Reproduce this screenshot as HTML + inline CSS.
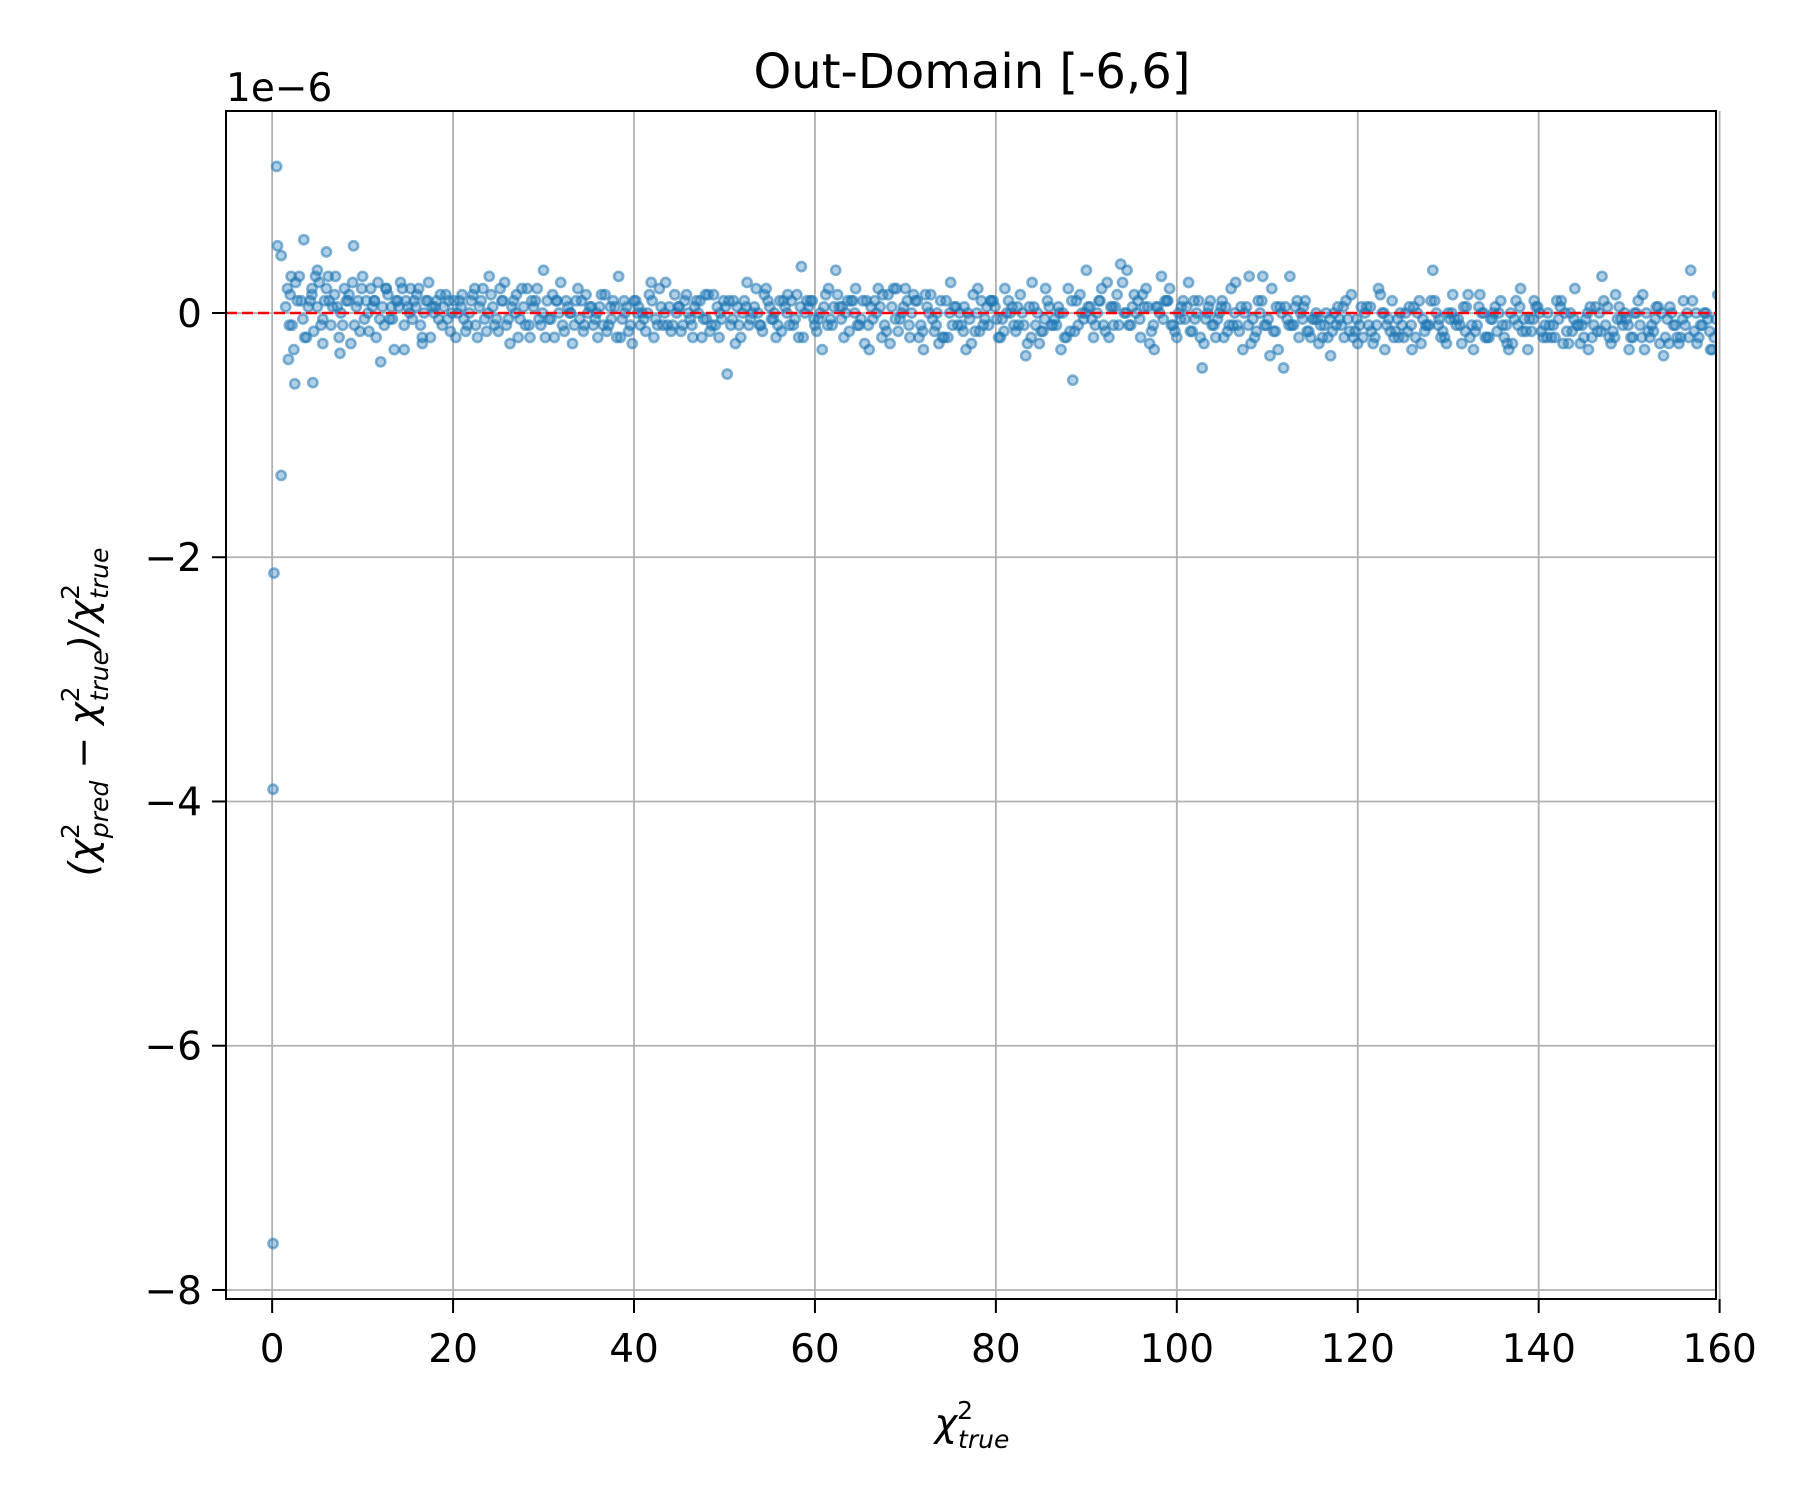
<!DOCTYPE html>
<html><head><meta charset="utf-8"><style>
html,body{margin:0;padding:0;background:#fff;}
svg text{font-family:"DejaVu Sans","Liberation Sans",sans-serif;fill:#000;}
</style></head><body>
<svg id="chart" width="1800" height="1500" viewBox="0 0 1800 1500" xmlns="http://www.w3.org/2000/svg">
<defs><clipPath id="plotclip"><rect x="226" y="111" width="1490" height="1188"/></clipPath></defs>
<rect width="1800" height="1500" fill="#fff"/>
<g id="grid"></g>
<g id="points" clip-path="url(#plotclip)"></g>
<line id="zero" stroke="#ff0000" stroke-width="2.6" stroke-dasharray="11,5"/>
<rect id="frame" fill="none" stroke="#000" stroke-width="2"/>
<g id="ticks"></g>
<text x="972" y="88" font-size="48" text-anchor="middle">Out-Domain [-6,6]</text>
<text x="226" y="101" font-size="39">1e−6</text>
<text x="972" y="1436" font-size="38" text-anchor="middle" font-style="italic">χ<tspan font-size="25" dy="-17" font-style="normal">2</tspan><tspan font-size="25" dx="-15" dy="29">true</tspan></text>
<text transform="translate(96,712) rotate(-90)" font-size="38" text-anchor="middle" font-style="italic">(χ<tspan font-size="25" dy="-17" font-style="normal">2</tspan><tspan font-size="25" dx="-15" dy="29">pred</tspan><tspan dy="-12" font-style="normal"> − </tspan>χ<tspan font-size="25" dy="-17" font-style="normal">2</tspan><tspan font-size="25" dx="-15" dy="29">true</tspan><tspan dy="-12">)/χ</tspan><tspan font-size="25" dy="-17" font-style="normal">2</tspan><tspan font-size="25" dx="-15" dy="29">true</tspan></text>
</svg>
<script>
const xTicks=[0,20,40,60,80,100,120,140,160];
const yTicks=[0,-2,-4,-6,-8];
const yTickLabels=["0","−2","−4","−6","−8"];
const outlierX=[0.1,0.1,0.2,1.0,0.5,0.6,1.0,2.5,4.5,3.5,9.0,1.8,2.0,7.5,6.0];
const outlierY=[-7.62,-3.9,-2.13,-1.33,1.2,0.55,0.47,-0.58,-0.57,0.6,0.55,-0.38,0.15,-0.33,0.5];
const bandX=[1.5,2.2,3,3.8,4.4,5,5.6,6.3,7,7.8,8.5,9.3,10,10.7,11.3,12,12.6,13.3,14,14.6,15.3,16,16.6,17.3,18,18.8,19.5,20.3,21,21.8,22.5,23.3,24,24.8,25.5,26.3,27,27.8,28.5,29.3,30,30.8,31.5,32.3,33,33.8,34.5,35.3,36,36.8,37.5,38.3,39,39.8,40.5,41.3,42,42.8,43.5,44.3,45,45.8,46.5,47.3,48,48.8,49.5,50.3,51,51.8,52.5,53.3,54,54.8,55.5,56.3,57,57.8,58.5,59.3,60,60.8,61.5,62.3,63,63.8,64.5,65.3,66,66.8,67.5,68.3,69,69.8,70.5,71.3,72,72.8,73.5,74.3,75,75.8,76.5,77.3,78,78.8,79.5,80.3,81,81.8,82.5,83.3,84,84.8,85.5,86.3,87,87.8,88.5,89.3,90,90.8,91.5,92.3,93,93.8,94.5,95.3,96,96.8,97.5,98.3,99,99.8,100.5,101.3,102,102.8,103.5,104.3,105,105.8,106.5,107.3,108,108.8,109.5,110.3,111,111.8,112.5,113.3,114,114.8,115.5,116.3,117,117.8,118.5,119.3,120,120.8,121.5,122.3,123,123.8,124.5,125.3,126,126.8,127.5,128.3,129,129.8,130.5,131.3,132,132.8,133.5,134.3,135,135.8,136.5,137.3,138,138.8,139.5,140.3,141,141.8,142.5,143.3,144,144.8,145.5,146.3,147,147.8,148.5,149.3,150,150.8,151.5,152.3,153,153.8,154.5,155.3,156,156.8,157.5,158.3,159,159.8];
const bandY=[0.05,-0.1,0.3,-0.2,0.2,0.35,-0.25,0.1,0.3,-0.1,0.15,0.05,0.3,-0.15,0.1,-0.4,0.2,-0.05,0.05,-0.3,0.2,0.15,-0.25,0.25,0.05,-0.1,0.1,-0.2,0.15,0.0,-0.1,0.2,0.3,-0.05,0.1,-0.25,0.15,0.05,-0.2,0.2,0.35,-0.05,0.1,-0.15,0.0,0.2,-0.1,0.05,-0.2,0.15,-0.05,0.3,0.0,-0.25,0.05,-0.15,0.1,0.2,0.25,-0.1,0.05,0.15,-0.2,0.1,-0.05,0.15,0.0,-0.5,0.1,-0.2,0.25,0.05,-0.1,0.1,0.0,-0.15,0.15,-0.05,0.38,0.05,-0.1,-0.3,0.2,0.35,0.05,-0.15,0.2,0.1,-0.3,0.0,0.15,-0.25,0.2,0.05,-0.2,0.1,-0.3,0.15,0.0,-0.2,0.25,-0.1,0.05,-0.25,0.2,-0.05,0.1,-0.2,0.2,0.05,-0.1,-0.35,0.25,-0.25,0.2,-0.1,0.0,-0.2,-0.55,0.15,0.35,-0.2,0.1,0.25,-0.1,0.4,0.35,0.15,-0.2,0.05,-0.3,0.3,0.1,-0.15,0.05,0.25,-0.05,-0.45,0.05,-0.2,0.1,-0.1,0.25,-0.3,0.3,-0.15,0.3,-0.35,0.05,-0.45,0.3,0.1,0.05,-0.2,-0.05,-0.1,-0.35,0.05,-0.2,0.15,-0.25,0.0,-0.15,0.2,-0.3,0.1,-0.2,0.0,-0.3,0.1,-0.1,0.35,-0.05,-0.25,0.15,-0.1,0.05,-0.3,0.15,-0.2,0.0,0.1,-0.25,-0.05,0.2,-0.3,0.1,-0.15,0.0,-0.2,0.1,-0.25,0.2,-0.1,-0.3,0.05,0.3,-0.2,0.15,-0.1,-0.3,0.0,0.15,-0.2,0.05,-0.35,0.05,-0.2,0.1,0.35,-0.25,0.0,-0.3,0.15,-0.1,0.2];
const bandY2=[0.2,-0.3,0.1,0.05,-0.15,0.25,0.1,-0.1,0.05,0.2,-0.25,0.1,-0.05,0.2,-0.2,0.05,0.15,-0.3,0.25,0.1,-0.05,0.2,0.0,-0.2,0.1,0.05,-0.15,0.0,-0.05,0.1,-0.2,-0.05,0.15,-0.15,0.25,0.05,-0.2,-0.1,0.1,-0.05,-0.2,0.15,0.0,0.1,-0.25,-0.05,0.15,-0.1,0.05,-0.15,0.1,-0.2,0.05,0.1,-0.1,0.0,-0.2,0.05,-0.1,0.15,-0.15,0.0,0.05,-0.2,0.15,-0.1,-0.05,0.1,-0.25,0.0,-0.1,0.2,-0.15,0.05,-0.2,0.1,-0.1,0.15,-0.2,0.1,-0.15,0.05,-0.05,0.15,-0.2,0.1,-0.1,-0.25,0.05,0.2,-0.1,0.05,-0.15,0.2,0.0,-0.2,0.15,-0.05,-0.25,0.1,-0.1,0.0,-0.3,0.15,-0.15,0.05,0.1,-0.2,0.0,-0.1,0.15,-0.25,0.05,-0.15,0.1,-0.05,-0.3,0.2,-0.15,0.0,0.05,-0.1,0.2,-0.2,0.05,0.25,-0.1,0.0,0.15,-0.25,0.05,-0.05,0.2,-0.2,0.1,-0.15,0.0,-0.25,0.1,-0.05,-0.2,0.2,-0.1,0.0,-0.25,0.1,-0.1,0.2,-0.3,0.05,-0.1,-0.2,0.1,-0.05,-0.25,0.0,-0.15,-0.05,0.1,-0.2,-0.1,0.05,-0.25,0.15,-0.1,-0.2,0.0,-0.15,0.05,-0.25,-0.1,0.1,-0.2,0.0,-0.05,-0.25,0.15,-0.15,0.0,-0.2,0.05,-0.1,-0.3,0.1,-0.15,-0.05,0.05,-0.2,-0.1,0.1,-0.25,0.0,-0.1,-0.2,0.05,-0.15,0.1,-0.25,-0.05,0.0,-0.2,0.1,-0.3,-0.1,0.05,-0.2,0.0,-0.25,-0.1,0.1,-0.2,0.0,-0.3,-0.15,0.05,-0.25,-0.1];
const bandY3=[-0.1,0.25,-0.05,0.1,0.3,-0.1,0.2,0.05,-0.2,0.1,0.25,-0.15,0.1,0.05,0.25,-0.1,-0.05,0.1,0.2,0.05,0.1,-0.1,0.1,0.05,-0.05,0.15,0.0,0.1,-0.15,0.15,0.05,-0.15,0.05,0.2,-0.1,0.1,-0.05,0.2,0.05,-0.1,0.1,-0.2,0.25,0.05,-0.1,0.1,0.0,-0.05,0.15,-0.1,0.05,-0.05,-0.15,0.1,0.0,0.15,-0.05,-0.1,0.05,0.0,-0.1,-0.05,0.1,-0.05,-0.15,0.05,0.1,-0.1,0.05,0.1,-0.05,0.0,0.15,-0.05,-0.1,0.05,0.1,-0.2,0.0,0.1,-0.05,0.15,-0.1,0.05,0.0,0.1,-0.1,0.1,-0.05,0.05,-0.15,0.2,-0.05,0.1,0.15,-0.1,0.05,-0.15,0.1,-0.2,0.05,-0.1,0.0,-0.15,0.1,-0.1,0.05,-0.05,0.1,-0.15,0.0,0.05,-0.1,-0.15,0.05,-0.1,0.0,-0.15,0.1,-0.05,0.05,0.0,-0.1,0.05,0.15,0.0,-0.1,0.1,0.05,-0.15,0.05,0.1,-0.1,0.0,-0.05,-0.15,0.1,-0.05,-0.1,0.0,0.05,-0.1,-0.15,0.05,-0.05,0.0,-0.1,-0.15,0.05,-0.05,-0.1,0.0,-0.15,-0.05,-0.1,-0.2,0.0,-0.1,-0.05,-0.15,0.05,-0.1,-0.2,0.0,-0.05,-0.15,-0.1,0.05,-0.2,-0.05,-0.1,0.0,-0.15,-0.05,-0.1,0.05,-0.2,-0.1,0.0,-0.05,-0.15,-0.2,0.0,-0.1,-0.05,-0.15,0.05,-0.1,-0.2,-0.05,0.0,-0.15,-0.1,-0.05,-0.2,0.0,-0.1,-0.15,0.05,-0.05,-0.2,-0.1,0.0,-0.15,-0.25,-0.05,-0.1,-0.2,0.0,-0.15,-0.1,-0.05,-0.2,-0.15,-0.05,-0.1];
const bandY4=[0.3,0.1,-0.2,0.15,0.05,-0.05,0.3,0.15,0.0,0.1,-0.1,0.2,0.0,0.1,-0.05,0.2,0.05,0.1,-0.1,0.0,0.05,-0.2,0.1,0.0,0.15,-0.05,0.1,0.05,-0.1,0.2,0.1,0.0,-0.1,0.1,-0.05,0.0,0.2,-0.1,0.1,0.0,-0.05,0.1,-0.1,0.0,0.1,-0.15,0.05,0.0,-0.1,0.05,-0.2,0.1,-0.1,0.0,-0.05,0.25,-0.1,0.0,-0.15,0.05,0.1,-0.1,0.0,0.15,-0.1,-0.2,0.05,-0.05,-0.1,0.05,0.0,-0.1,0.2,-0.05,0.1,0.0,-0.1,0.05,0.1,-0.05,0.0,-0.1,0.05,-0.05,0.1,0.0,-0.05,-0.1,0.1,-0.2,0.15,-0.05,0.0,-0.1,0.1,-0.15,0.0,-0.1,-0.2,0.0,0.05,-0.15,-0.05,0.0,-0.1,0.1,-0.05,-0.15,0.0,0.05,-0.1,-0.2,0.0,-0.05,-0.1,0.05,-0.2,0.1,-0.1,0.0,-0.05,0.1,-0.15,0.05,-0.1,0.0,0.05,-0.05,0.2,-0.1,0.0,0.1,-0.1,-0.05,0.05,0.1,-0.2,0.0,-0.1,0.05,-0.15,0.0,0.05,-0.1,-0.2,0.1,-0.05,-0.15,0.0,-0.1,0.05,-0.05,-0.15,0.0,-0.2,-0.05,-0.1,0.05,-0.15,-0.05,-0.2,0.05,-0.1,0.0,-0.15,-0.05,-0.2,-0.1,0.0,-0.15,0.1,-0.1,-0.2,0.0,-0.05,-0.15,-0.1,0.05,-0.2,-0.05,0.0,-0.1,-0.25,0.05,-0.15,-0.05,0.0,-0.2,-0.1,0.05,-0.15,-0.05,-0.25,0.0,-0.1,-0.15,0.05,-0.2,-0.05,-0.1,0.0,-0.2,-0.15,-0.05,0.0,-0.25,-0.1,-0.05,-0.2,0.0,-0.1,-0.15,-0.05,-0.2];
const X0=226,X1=1716,Y0=111,Y1=1299;
const xMin=-5.1,xMax=159.6,yMin=-8.074,yMax=1.654;
function sx(v){return X0+(v-xMin)/(xMax-xMin)*(X1-X0);}
function sy(v){return Y1-(v-yMin)/(yMax-yMin)*(Y1-Y0);}
const NS="http://www.w3.org/2000/svg";
function mk(tag,attrs,parent){const e=document.createElementNS(NS,tag);for(const k in attrs)e.setAttribute(k,attrs[k]);parent.appendChild(e);return e;}
const grid=document.getElementById('grid'),ticks=document.getElementById('ticks'),pts=document.getElementById('points');
xTicks.forEach(t=>{const x=sx(t);
 const g=mk('line',{x1:x,x2:x,y1:Y0,y2:Y1,stroke:'#b0b0b0','stroke-width':1.8},grid);
 
 
 const tk=mk('line',{x1:x,x2:x,y1:Y1,y2:Y1+14,stroke:'#000','stroke-width':2},ticks);
 
 
 const tx=mk('text',{x:x,y:Y1+63,'font-size':39,'text-anchor':'middle'},ticks);
 tx.textContent=String(t);
 
 
});
yTicks.forEach((t,i)=>{const y=sy(t);
 const g=mk('line',{x1:X0,x2:X1,y1:y,y2:y,stroke:'#b0b0b0','stroke-width':1.8},grid);
 
 
 const tk=mk('line',{x1:X0-14,x2:X0,y1:y,y2:y,stroke:'#000','stroke-width':2},ticks);
 
 
 const tx=mk('text',{x:X0-24,y:y+14,'font-size':39,'text-anchor':'end'},ticks);
 tx.textContent=yTickLabels[i];
 
 
});
function dot(x,y){const c=mk('circle',{cx:sx(x),cy:sy(y),r:4.6,fill:'#1f77b4','fill-opacity':0.35,stroke:'#1f77b4','stroke-opacity':0.55,'stroke-width':2.6},pts);
 
 }
outlierX.forEach((x,i)=>dot(x,outlierY[i]));
bandX.forEach((x,i)=>dot(x,bandY[i]));
bandX.forEach((x,i)=>dot(x+0.2,bandY2[i]));
bandX.forEach((x,i)=>dot(x+0.4,bandY3[i]));
bandX.forEach((x,i)=>dot(x+0.6,bandY4[i]));
const z=document.getElementById('zero');
z.setAttribute('x1',X0);z.setAttribute('x2',X1);z.setAttribute('y1',sy(0));z.setAttribute('y2',sy(0));
const f=document.getElementById('frame');
f.setAttribute('x',X0);f.setAttribute('y',Y0);f.setAttribute('width',X1-X0);f.setAttribute('height',Y1-Y0);
</script>
</body></html>
